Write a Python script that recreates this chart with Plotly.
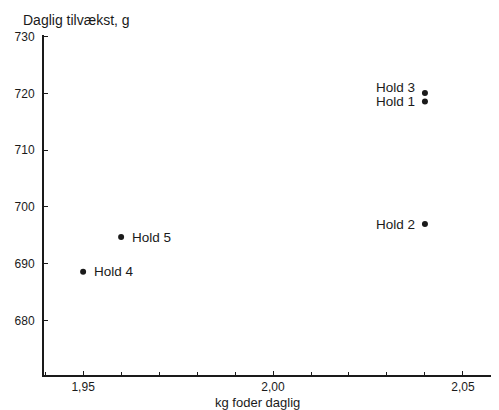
import plotly.graph_objects as go

# Data
hold_labels = ["Hold 1", "Hold 2", "Hold 3", "Hold 4", "Hold 5"]
feed_kg = [2.04, 2.04, 2.04, 1.95, 1.96]
gain_g = [718.6, 697.0, 720.1, 688.6, 694.7]
label_side = ["left", "left", "left", "right", "right"]
label_lift = [0, 0, 5, 0, 0]

x_tickvals = [1.95, 2.00, 2.05]
x_ticktext = ["1,95", "2,00", "2,05"]
y_tickvals = [680, 690, 700, 710, 720, 730]

FONT = "Liberation Sans, Arial, sans-serif"
INK = "#1a1a1a"

fig = go.Figure()
fig.add_trace(go.Scatter(
    x=feed_kg, y=gain_g, mode="markers",
    marker=dict(size=6, color=INK),
    cliponaxis=False, showlegend=False, hoverinfo="skip",
))

annotations = []
for name, xv, yv, side, lift in zip(hold_labels, feed_kg, gain_g, label_side, label_lift):
    annotations.append(dict(
        text=name, x=xv, y=yv, xref="x", yref="y", showarrow=False,
        xanchor="right" if side == "left" else "left", yanchor="middle",
        xshift=-8 if side == "left" else 9, yshift=lift,
        font=dict(family=FONT, size=13.5, color=INK),
    ))

annotations.append(dict(
    text="Daglig tilvækst, g", xref="paper", yref="paper",
    x=0, y=1, xanchor="left", yanchor="middle", xshift=-23, yshift=15,
    showarrow=False, font=dict(family=FONT, size=14, color=INK),
))
annotations.append(dict(
    text="kg foder daglig", xref="paper", yref="paper",
    x=(257 - 44) / 455, y=0, xanchor="center", yanchor="middle", yshift=-27,
    showarrow=False, borderpad=0, font=dict(family=FONT, size=13, color=INK),
))

# The page body has an 8px margin, so the figure is drawn 8px in from the corner.
fig.update_layout(
    width=491, height=402,
    margin=dict(l=36, r=0, t=27, b=35),
    paper_bgcolor="white", plot_bgcolor="white",
    font=dict(family=FONT, size=12, color=INK),
    xaxis=dict(
        range=[1.9397, 2.0595], showgrid=False, zeroline=False,
        showline=True, linecolor=INK, linewidth=2,
        tickvals=x_tickvals, ticktext=x_ticktext,
        ticks="inside", ticklen=4, tickcolor=INK,
        minor=dict(dtick=0.01, tick0=1.95, ticks="inside", ticklen=3, tickcolor=INK),
        tickfont=dict(size=12), automargin=False, ticklabelstandoff=0,
    ),
    yaxis=dict(
        range=[670.4, 730.3], showgrid=False, zeroline=False,
        showline=True, linecolor=INK, linewidth=2,
        tickvals=y_tickvals, ticks="inside", ticklen=4, tickcolor=INK,
        tickfont=dict(size=12), automargin=False, ticklabelstandoff=5,
    ),
    annotations=annotations,
)

fig.write_html("out.html")
